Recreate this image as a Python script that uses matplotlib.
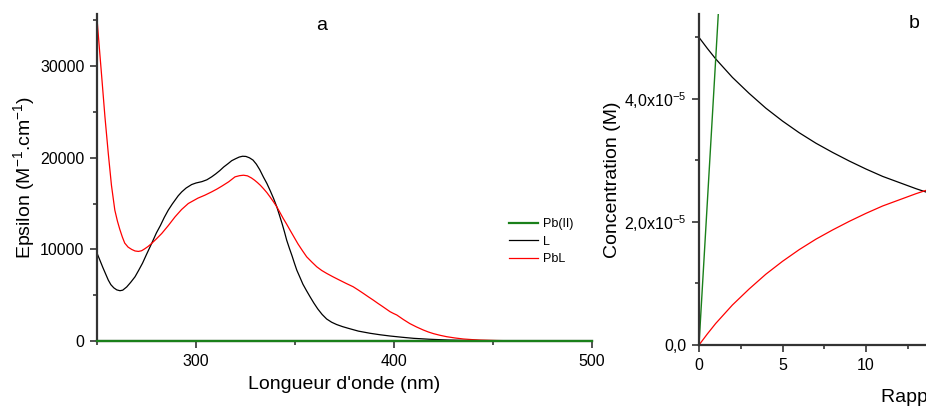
import matplotlib
matplotlib.use("Agg")
import matplotlib.pyplot as plt
from matplotlib.ticker import MultipleLocator, FuncFormatter

plt.rcParams["font.family"] = ["Liberation Sans", "DejaVu Sans"]
plt.rcParams["mathtext.fontset"] = "custom"
plt.rcParams["mathtext.rm"] = "Liberation Sans"
plt.rcParams["mathtext.it"] = "Liberation Sans"

# panel a: molar absorptivity spectra
wl_pb = [250, 500]
eps_pb = [0, 0]

wl_l = [250, 251.5, 253, 254.5, 255.7, 257, 258.5, 260, 261.6, 263, 265, 267, 269.2,
        271, 273, 275, 277.6, 280, 282, 284, 286, 288, 289.5, 291, 292.8, 295,
        297.8, 300, 303, 305.5, 307.9, 310, 312, 314, 316.3, 318, 320, 321.8, 323.5,
        325.2, 327, 328.8, 330.5, 332.2, 334, 335.8, 337.5, 339.2, 340.8, 342.2, 343.5,
        344.7, 345.8, 347.2, 348.5, 349.7, 350.9, 352.5, 354, 355.8, 357.6, 359.5,
        361.5, 363.7, 366, 368.5, 371, 374, 377, 382, 388, 393, 398, 404, 410,
        418, 427, 438, 450, 475, 500]
eps_l = [9600, 8800, 8000, 7250, 6650, 6150, 5800, 5580, 5490, 5550, 5900, 6400, 7010,
         7700, 8500, 9450, 10650, 11800, 12600, 13500, 14290, 14950, 15400, 15850, 16280, 16700,
         17080, 17250, 17400, 17600, 17920, 18250, 18600, 19000, 19380, 19680, 19900, 20080, 20170,
         20150, 20000, 19750, 19300, 18700, 17920, 17200, 16400, 15550, 14650, 13700, 12800,
         11900, 11010, 10100, 9300, 8500, 7740, 6950, 6200, 5500, 4830, 4150,
         3500, 2900, 2400, 2050, 1800, 1570, 1380, 1080, 840, 680, 545, 410, 290,
         190, 110, 55, 20, 0, 0]

wl_pbl = [250, 251, 252.4, 254, 255.7, 257.3, 259, 260.3, 261.5, 262.8, 264, 265.7,
          267.5, 269.2, 270.9, 272.5, 274, 275.8, 277.6, 280, 282.7, 286, 289.4,
          292.7, 296.1, 298.5, 301, 304.5, 307.9, 310.5, 313, 316.5, 319.7, 322, 324,
          326, 328, 329.5, 331, 332.5, 334, 335.8, 337.5, 339.2, 340.8, 342.4, 344,
          345.8, 347.5, 349.5, 351.5, 353.7, 355.9, 358.5, 361, 363.5, 366, 369, 372,
          375.7, 379.4, 382, 384.5, 387, 389.5, 391.8, 394, 396, 398, 399.7, 401.4,
          404.7, 408, 411.4, 414.8, 417.4, 420, 423.3, 426.6, 430.8, 435, 439.2, 443.4,
          451.7, 460, 470, 480, 500]
eps_pbl = [35200, 32500, 28800, 24500, 20470, 17000, 14290, 13100, 12200, 11350, 10690, 10250,
           10000, 9830, 9780, 9850, 10050, 10320, 10650, 11150, 11740, 12600, 13550,
           14350, 15010, 15300, 15600, 15920, 16280, 16580, 16900, 17380, 17920, 18050, 18100,
           18030, 17800, 17570, 17300, 17000, 16650, 16200, 15700, 15180, 14650, 14030, 13400,
           12750, 12100, 11350, 10600, 9880, 9190, 8620, 8100, 7700, 7380, 7030, 6700,
           6300, 5920, 5560, 5200, 4830, 4470, 4120, 3800, 3500, 3200, 3010, 2840,
           2350, 1900, 1530, 1200, 980, 800, 620, 470, 330, 220, 155, 110,
           55, 20, 5, 0, 0]

# panel b: concentrations (units of 1e-5 M) vs ratio
ratio = [0, 0.5, 1, 1.5, 2, 3, 4, 5, 6, 7, 8, 9, 10, 11, 12, 13, 14, 15, 16]
conc_l = [5.00, 4.82, 4.65, 4.50, 4.35, 4.09, 3.85, 3.64, 3.45, 3.28, 3.13, 2.99,
          2.86, 2.74, 2.64, 2.54, 2.45, 2.37, 2.29]
conc_pbl = [0.00, 0.18, 0.35, 0.50, 0.65, 0.91, 1.15, 1.36, 1.55, 1.72, 1.87, 2.01,
            2.14, 2.26, 2.36, 2.46, 2.55, 2.63, 2.71]
ratio_pb = [0, 1, 2]
conc_pb = [0.00, 4.65, 9.35]
unit = 1e-5

GREEN = "#1a801a"
SPINE = "#333333"

fig = plt.figure(figsize=(9.26, 4.07), dpi=100)
W, H = 926, 407


def style(ax):
    for s in ("top", "right"):
        ax.spines[s].set_visible(False)
    for s in ("left", "bottom"):
        ax.spines[s].set_color(SPINE)
        ax.spines[s].set_linewidth(1.6)
    ax.tick_params(which="major", direction="out", length=5, width=1.2,
                   color=SPINE, labelsize=11.5, pad=4)
    ax.tick_params(which="minor", direction="out", length=3, width=1.2, color=SPINE)


ax1 = fig.add_axes([97 / W, 66 / H, 495 / W, 327 / H])
ax1.plot(wl_l, eps_l, color="black", lw=0.9, label="L")
ax1.plot(wl_pbl, eps_pbl, color="red", lw=0.9, label="PbL")
ax1.plot(wl_pb, eps_pb, color=GREEN, lw=1.6, label="Pb(II)", clip_on=False, zorder=3)
ax1.set_xlim(250, 500)
ax1.set_ylim(0, 35700)
ax1.xaxis.set_major_locator(MultipleLocator(100))
ax1.xaxis.set_minor_locator(MultipleLocator(50))
ax1.yaxis.set_major_locator(MultipleLocator(10000))
ax1.yaxis.set_minor_locator(MultipleLocator(5000))
style(ax1)
ax1.set_xlabel("Longueur d'onde (nm)", fontsize=14, labelpad=5.5)
ax1.set_ylabel("Epsilon (M$^{-1}$.cm$^{-1}$)", fontsize=14, labelpad=2)
h, l = ax1.get_legend_handles_labels()
order = [2, 0, 1]
fig.legend([h[i] for i in order], [l[i] for i in order], loc="upper left",
           bbox_to_anchor=(509 / W, 1 - 218 / H), frameon=False, fontsize=9,
           handlelength=2.3, handletextpad=0.4, labelspacing=0.45,
           borderpad=0, borderaxespad=0)

ax2 = fig.add_axes([699 / W, 62 / H, 501 / W, 331 / H])
ax2.plot(ratio, [c * unit for c in conc_l], color="black", lw=0.9)
ax2.plot(ratio, [c * unit for c in conc_pbl], color="red", lw=0.9)
ax2.plot(ratio_pb, [c * unit for c in conc_pb], color=GREEN, lw=1.0)
ax2.set_xlim(0, 30)
ax2.set_ylim(0, 5.38e-5)
ax2.xaxis.set_major_locator(MultipleLocator(5))
ax2.xaxis.set_minor_locator(MultipleLocator(2.5))
ax2.yaxis.set_major_locator(MultipleLocator(2e-5))
ax2.yaxis.set_minor_locator(MultipleLocator(1e-5))


def conc_fmt(v, pos):
    if abs(v) < 1e-12:
        return "0,0"
    return ("%.1f" % (v / unit)).replace(".", ",") + "x10$^{-5}$"


ax2.yaxis.set_major_formatter(FuncFormatter(conc_fmt))
style(ax2)
ax2.set_xlabel("Rapport [Pb]/[L]", fontsize=14, labelpad=12)
ax2.set_ylabel("Concentration (M)", fontsize=14, labelpad=2)

fig.text(322 / W, 1 - 25 / H, "a", fontsize=14, ha="center", va="center")
fig.text(914 / W, 1 - 24 / H, "b", fontsize=14, ha="center", va="center")

fig.savefig("out.png", dpi=100)
